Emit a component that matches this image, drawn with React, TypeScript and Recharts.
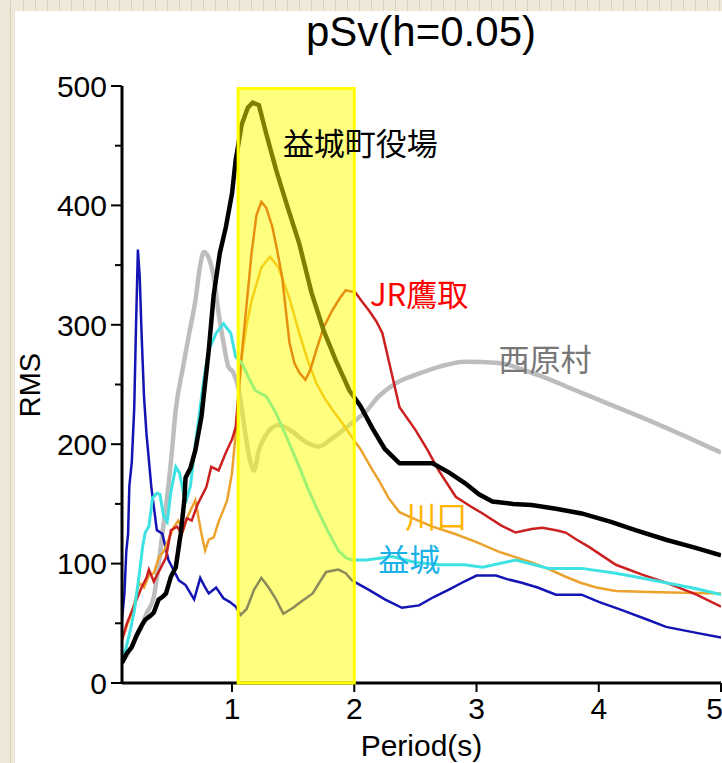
import React from 'react';
import { LineChart, Line, XAxis, YAxis, ReferenceArea, ReferenceDot } from 'recharts';

// period (s), RMS pairs
const mashikiTownHall: [number, number][] = [
  [0.1, 17], [0.14, 25], [0.18, 30], [0.22, 40], [0.26, 48], [0.29, 53], [0.33, 56], [0.36, 59],
  [0.4, 70], [0.43, 72], [0.46, 75], [0.5, 89], [0.54, 97], [0.58, 125], [0.61, 153], [0.62, 172],
  [0.66, 180], [0.7, 195], [0.75, 223], [0.81, 279], [0.85, 325], [0.9, 360], [0.95, 382], [1.0, 410],
  [1.03, 438], [1.08, 468], [1.13, 482], [1.17, 486], [1.22, 484], [1.28, 460], [1.36, 430], [1.45, 400],
  [1.55, 368], [1.65, 327], [1.75, 295], [1.85, 270], [1.96, 245], [2.05, 232], [2.15, 213], [2.25, 196],
  [2.37, 184], [2.5, 184], [2.64, 184], [2.78, 176], [2.91, 167], [3.02, 158], [3.13, 152], [3.3, 150],
  [3.45, 149], [3.65, 146], [3.86, 142], [4.1, 135], [4.3, 128], [4.55, 120], [4.8, 113], [5.0, 107],
];

const jrTakatori: [number, number][] = [
  [0.1, 36], [0.14, 50], [0.18, 60], [0.22, 70], [0.26, 80], [0.3, 88], [0.32, 95], [0.36, 85],
  [0.42, 97], [0.46, 105], [0.5, 128], [0.55, 131], [0.59, 125], [0.63, 138], [0.67, 136], [0.72, 150],
  [0.79, 164], [0.83, 181], [0.89, 178], [0.95, 193], [1.0, 204], [1.03, 214], [1.07, 265], [1.11, 307],
  [1.16, 360], [1.2, 392], [1.24, 403], [1.28, 398], [1.33, 382], [1.37, 362], [1.41, 340], [1.47, 285],
  [1.51, 268], [1.55, 260], [1.6, 254], [1.64, 262], [1.69, 279], [1.75, 298], [1.82, 312], [1.88, 322],
  [1.93, 329], [1.97, 328], [2.01, 327], [2.06, 320], [2.12, 312], [2.18, 303], [2.23, 293], [2.3, 262],
  [2.37, 231], [2.5, 212], [2.6, 195], [2.69, 178], [2.83, 156], [2.95, 148], [3.05, 142], [3.2, 132],
  [3.32, 126], [3.45, 129], [3.54, 130], [3.65, 128], [3.73, 126], [3.82, 120], [3.92, 114], [4.14, 99],
  [4.35, 91], [4.55, 84], [4.8, 74], [5.0, 64],
];

const kawaguchi: [number, number][] = [
  [0.1, 36], [0.14, 48], [0.18, 59], [0.21, 70], [0.24, 84], [0.28, 80], [0.32, 90], [0.36, 92],
  [0.4, 105], [0.44, 110], [0.48, 120], [0.52, 130], [0.56, 136], [0.6, 128], [0.64, 140], [0.7, 153],
  [0.75, 125], [0.78, 111], [0.81, 120], [0.85, 122], [0.89, 135], [0.93, 145], [0.96, 153], [1.0, 176],
  [1.03, 209], [1.08, 273], [1.12, 300], [1.16, 320], [1.24, 348], [1.31, 357], [1.38, 348], [1.47, 322],
  [1.55, 293], [1.62, 270], [1.69, 251], [1.76, 238], [1.82, 229], [1.9, 218], [1.96, 209], [2.05, 196],
  [2.15, 178], [2.2, 170], [2.28, 155], [2.37, 143], [2.5, 137], [2.64, 131], [2.82, 125], [3.0, 118],
  [3.18, 110], [3.45, 101], [3.6, 95], [3.73, 89], [3.85, 84], [3.98, 80], [4.14, 77], [4.5, 76], [5.0, 75],
];

const mashiki: [number, number][] = [
  [0.1, 20], [0.13, 28], [0.17, 45], [0.2, 60], [0.24, 90], [0.27, 115], [0.29, 126], [0.32, 131],
  [0.35, 155], [0.385, 159], [0.41, 158], [0.44, 140], [0.47, 135], [0.5, 160], [0.54, 181], [0.57, 176],
  [0.62, 151], [0.66, 165], [0.7, 200], [0.73, 223], [0.77, 255], [0.81, 279], [0.87, 293], [0.93, 301],
  [0.99, 293], [1.03, 273], [1.08, 268], [1.14, 255], [1.19, 245], [1.28, 240], [1.36, 226], [1.45, 205],
  [1.55, 181], [1.62, 163], [1.69, 147], [1.78, 128], [1.87, 111], [1.93, 105], [1.98, 103], [2.1, 103],
  [2.31, 106], [2.5, 101], [2.7, 99], [2.9, 99], [3.05, 97], [3.32, 103], [3.59, 96], [3.86, 96],
  [4.14, 92], [4.35, 88], [4.55, 84], [4.8, 79], [5.0, 74],
];

const nishihara: [number, number][] = [
  [0.1, 17], [0.15, 25], [0.2, 35], [0.26, 47], [0.3, 58], [0.36, 72], [0.4, 100], [0.43, 125],
  [0.46, 148], [0.5, 185], [0.54, 229], [0.6, 265], [0.65, 293], [0.7, 320], [0.74, 350], [0.77, 361],
  [0.8, 358], [0.85, 340], [0.89, 310], [0.93, 285], [0.97, 265], [1.01, 260], [1.06, 243], [1.1, 215],
  [1.14, 190], [1.18, 178], [1.22, 195], [1.28, 208], [1.38, 216], [1.5, 210], [1.6, 202], [1.71, 198],
  [1.82, 205], [1.96, 216], [2.1, 228], [2.2, 240], [2.34, 251], [2.5, 258], [2.7, 265], [2.91, 269],
  [3.18, 268], [3.5, 258], [3.86, 243], [4.1, 233], [4.41, 220], [4.7, 207], [5.0, 193],
];

const blueSite: [number, number][] = [
  [0.1, 53], [0.12, 75], [0.135, 110], [0.15, 125], [0.16, 165], [0.18, 185], [0.2, 230], [0.215, 300],
  [0.23, 363], [0.245, 340], [0.26, 293], [0.28, 240], [0.3, 209], [0.34, 164], [0.385, 128], [0.43, 125],
  [0.48, 103], [0.52, 95], [0.565, 86], [0.62, 82], [0.69, 70], [0.74, 88], [0.78, 80], [0.81, 75],
  [0.87, 80], [0.93, 71], [0.98, 68], [1.03, 64], [1.07, 57], [1.12, 62], [1.18, 78], [1.24, 88],
  [1.3, 80], [1.36, 70], [1.42, 58], [1.5, 63], [1.55, 67], [1.66, 75], [1.72, 85], [1.77, 93],
  [1.87, 95], [1.93, 92], [1.98, 86], [2.05, 82], [2.12, 78], [2.25, 70], [2.39, 63], [2.53, 65],
  [2.65, 72], [2.77, 78], [2.9, 85], [3.0, 90], [3.16, 90], [3.25, 87], [3.37, 84], [3.5, 80],
  [3.65, 74], [3.86, 74], [4.0, 68], [4.19, 61], [4.4, 53], [4.55, 47], [4.8, 42], [5.0, 38],
];

const xTicks = [1, 2, 3, 4, 5];
const yTicks = [0, 50, 100, 150, 200, 250, 300, 350, 400, 450, 500];
const band = { from: 1.05, to: 2.0 };

// site names and where they sit (period, RMS)
const notes = [
  { text: '益城町役場', p: 2.05, v: 451, color: '#000000' },
  { text: 'JR鷹取', p: 2.53, v: 325, color: '#ff0000' },
  { text: '西原村', p: 3.56, v: 270, color: '#777777' },
  { text: '川口', p: 2.67, v: 139, color: '#ffb400' },
  { text: '益城', p: 2.45, v: 103, color: '#1bb2e8' },
];

const pts = (a: [number, number][]) => a.map(([p, v]) => ({ p, v }));

const latin = '"Liberation Sans", Arial, Helvetica, sans-serif';
const cjk = '"Noto Sans CJK JP", "Noto Sans", sans-serif';

const YTick = (props: any) => {
  const { x, y, payload } = props;
  const major = payload.value % 100 === 0;
  return (
    <g>
      <line x1={x} x2={x - (major ? 11 : 7)} y1={y} y2={y} stroke="#000" strokeWidth={2} />
      {major && (
        <text x={x - 15} y={y} dy="0.36em" textAnchor="end" fontSize={30} fontFamily={latin} fill="#000">
          {payload.value}
        </text>
      )}
    </g>
  );
};

export default function App() {
  return (
    <div style={{ position: 'absolute', left: 0, top: 0, width: 722, height: 763, background: '#ffffff', overflow: 'hidden' }}>
      <div
        style={{
          position: 'absolute', left: 0, top: 0, width: 722, height: 11,
          background: 'repeating-linear-gradient(90deg, #efe8d9 0px, #efe8d9 11px, #d8cfbd 11px, #d8cfbd 12px)',
        }}
      />
      <div
        style={{
          position: 'absolute', left: 0, top: 0, width: 15, height: 763,
          background: 'linear-gradient(90deg, #efe8d9 0px, #efe8d9 10px, #d8cfbd 10px, #d8cfbd 11px, #efe8d9 11px)',
        }}
      />
      <div
        style={{
          position: 'absolute', left: 121, width: 600, top: 9, textAlign: 'center',
          fontFamily: latin, fontSize: 42, color: '#000', lineHeight: '46px',
        }}
      >
        pSv(h=0.05)
      </div>
      <div
        style={{
          position: 'absolute', left: 30, top: 385, transform: 'translate(-50%, -50%) rotate(-90deg)',
          fontFamily: latin, fontSize: 29, color: '#000', whiteSpace: 'nowrap',
        }}
      >
        RMS
      </div>
      <LineChart
        width={722}
        height={763}
        margin={{ top: 86, right: 1, bottom: 0, left: 0 }}
        style={{ position: 'absolute', left: 0, top: 0 }}
      >
        <XAxis
          dataKey="p"
          type="number"
          domain={[0.1, 5]}
          ticks={xTicks}
          allowDataOverflow
          height={80}
          tickSize={9}
          tickMargin={6}
          axisLine={{ stroke: '#000', strokeWidth: 3 }}
          tickLine={{ stroke: '#000', strokeWidth: 2 }}
          tick={{ fill: '#000', fontSize: 30, fontFamily: latin }}
          label={{ value: 'Period(s)', position: 'insideBottom', offset: 7, fill: '#000', fontSize: 30, fontFamily: latin }}
        />
        <XAxis
          xAxisId="top"
          orientation="top"
          dataKey="p"
          type="number"
          domain={[0.1, 5]}
          ticks={[1, 2, 3, 4]}
          allowDataOverflow
          height={0}
          tickSize={10}
          tickFormatter={() => ''}
          axisLine={{ stroke: '#000', strokeWidth: 3 }}
          tickLine={{ stroke: '#000', strokeWidth: 2 }}
        />
        <YAxis
          type="number"
          domain={[0, 500]}
          ticks={yTicks}
          width={122}
          tickSize={0}
          tickMargin={0}
          tickLine={false}
          interval={0}
          axisLine={{ stroke: '#000', strokeWidth: 3 }}
          tick={<YTick />}
        />
        <Line data={pts(nishihara)} dataKey="v" type="monotone" stroke="#bdbdbd" strokeWidth={4.5} dot={false} isAnimationActive={false} />
        <Line data={pts(blueSite)} dataKey="v" type="linear" stroke="#1414b4" strokeWidth={2.5} dot={false} isAnimationActive={false} />
        <Line data={pts(kawaguchi)} dataKey="v" type="linear" stroke="#eca22c" strokeWidth={2.5} dot={false} isAnimationActive={false} />
        <Line data={pts(jrTakatori)} dataKey="v" type="linear" stroke="#cc2020" strokeWidth={2.5} dot={false} isAnimationActive={false} />
        <Line data={pts(mashiki)} dataKey="v" type="linear" stroke="#3ee2e2" strokeWidth={3} dot={false} isAnimationActive={false} />
        <Line data={pts(mashikiTownHall)} dataKey="v" type="linear" stroke="#000000" strokeWidth={4.5} dot={false} isAnimationActive={false} />
        <ReferenceArea
          x1={band.from}
          x2={band.to}
          y1={0}
          y2={498}
          fill="#ffff00"
          fillOpacity={0.5}
          stroke="#ffff00"
          strokeWidth={3}
          strokeOpacity={1}
          zIndex={500}
        />
        {notes.map((n) => (
          <ReferenceDot
            key={n.text}
            x={n.p}
            y={n.v}
            r={0}
            zIndex={700}
            shape={(s: any) => (
              <text x={s.cx} y={s.cy} dy="0.35em" textAnchor="middle" fontSize={31} fontFamily={cjk} fill={n.color}>
                {n.text}
              </text>
            )}
          />
        ))}
      </LineChart>
    </div>
  );
}
